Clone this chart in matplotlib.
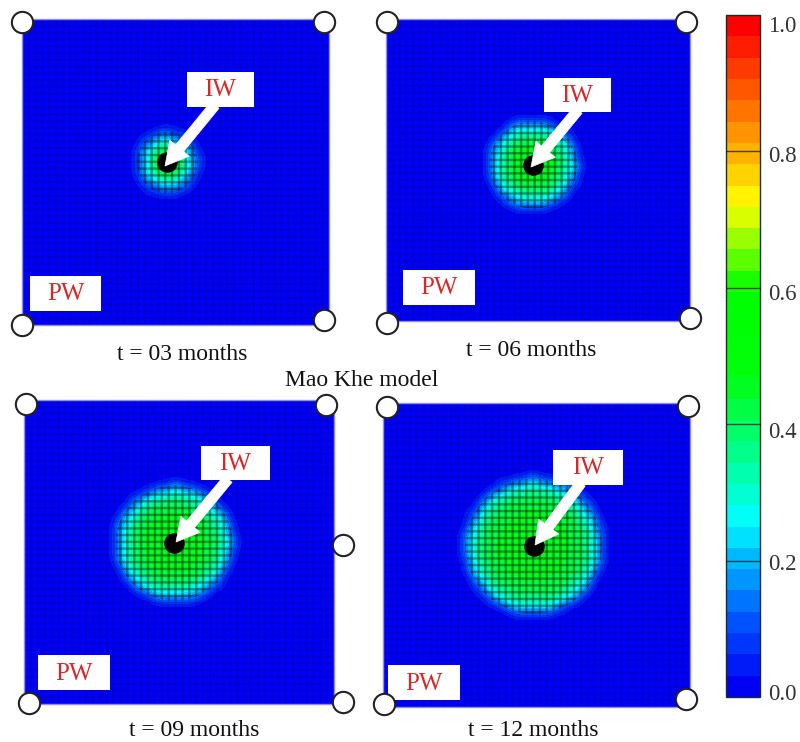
import numpy as np
import matplotlib
matplotlib.use("Agg")
import matplotlib.pyplot as plt
from matplotlib.colors import LinearSegmentedColormap
from matplotlib.patches import Circle

W, H = 800, 742
N_CELLS = 45

panel_titles = ["t = 03 months", "t = 06 months", "t = 09 months", "t = 12 months"]
suptitle = "Mao Khe model"
bar_ticks = [0.0, 0.2, 0.4, 0.6, 0.8, 1.0]

# saturation read per half-cell ring around the injection well
background = 0.012
rings_03 = [0.50, 0.50, 0.48, 0.45, 0.40, 0.34, 0.27, 0.21, 0.15, 0.10, 0.05, 0.02]
rings_06 = [0.46, 0.46, 0.46, 0.46, 0.46, 0.45, 0.44, 0.42, 0.39, 0.35, 0.31, 0.26,
            0.20, 0.13, 0.06, 0.02]
rings_09 = [0.45, 0.45, 0.45, 0.45, 0.45, 0.45, 0.45, 0.45, 0.45, 0.44, 0.43, 0.41,
            0.39, 0.35, 0.31, 0.26, 0.20, 0.13, 0.06, 0.02]
rings_12 = [0.44, 0.44, 0.44, 0.44, 0.44, 0.44, 0.44, 0.44, 0.44, 0.44, 0.44, 0.44,
            0.43, 0.42, 0.41, 0.38, 0.35, 0.31, 0.26, 0.20, 0.13, 0.06, 0.02]
well_col = [21.3, 21.8, 21.8, 22.1]
well_row = [21.1, 21.75, 21.2, 21.2]

# layout, pixels: left, right, top, bottom
boxes = [(22, 329, 19, 325), (386, 690, 19, 321), (24, 334, 400, 704), (383, 690, 403, 707)]
title_xy = [(182, 354), (531, 350), (194, 731), (533, 731)]
iw_boxes = [(187, 254, 72, 107), (544, 611, 78, 112), (201, 270, 446, 480), (553, 623, 450, 485)]
pw_boxes = [(30, 101, 276, 311), (403, 475, 270, 305), (38, 110, 655, 690), (388, 460, 665, 700)]
arrow_from = [(215, 105), (578, 110), (228, 479), (581, 483)]
arrow_to = [(165, 166), (531, 167), (176, 542), (535, 545)]
circles = [(22, 22), (324, 22), (22, 325), (324, 320),
           (387, 22), (686, 22), (387, 323), (690, 318),
           (26, 404), (326, 405), (29, 703), (343, 702), (343, 545),
           (387, 407), (688, 406), (384, 704), (686, 699)]
bar_label_y = [694, 564, 432, 294, 157, 27]

plt.rcParams["font.family"] = ["Liberation Serif", "DejaVu Serif"]

stops = [(0.0, (0, 0, 0.96)), (0.1, (0, 0.33, 1)), (0.2, (0, 0.75, 1)), (0.25, (0, 1, 1)),
         (0.40, (0, 1, 0.35)), (0.47, (0, 1, 0.05)), (0.60, (0, 1, 0)), (0.65, (0.4, 1, 0)),
         (0.73, (1, 1, 0)), (0.80, (1, 0.72, 0)), (0.90, (1, 0.35, 0)), (1.0, (1, 0, 0))]
cmap = LinearSegmentedColormap.from_list("sat", stops).resampled(32)

fig = plt.figure(figsize=(W / 100, H / 100), dpi=100, facecolor="white")


def px_axes(l, r, t, b, **kw):
    return fig.add_axes([l / W, 1 - b / H, (r - l) / W, (b - t) / H], **kw)


cols, rows = np.meshgrid(np.arange(N_CELLS) + 0.5, np.arange(N_CELLS) + 0.5)
image = None
for box, rings, wc, wr in zip(boxes, [rings_03, rings_06, rings_09, rings_12], well_col, well_row):
    ax = px_axes(*box)
    table = np.array(rings + [background] * (3 * N_CELLS))
    ring = np.rint(2 * np.hypot(cols - wc, rows - wr)).astype(int)
    field = table[ring]
    image = ax.imshow(field, cmap=cmap, vmin=0, vmax=1, extent=(0, N_CELLS, N_CELLS, 0),
                      interpolation="bicubic", aspect="auto")
    plume = Circle((wc, wr), len(rings) / 2 - 1.5, transform=ax.transData)
    for k in range(1, N_CELLS):
        ax.axvline(k, color="black", lw=1.2, alpha=0.10, snap=False)
        ax.axhline(k, color="black", lw=1.2, alpha=0.10, snap=False)
        for line in (ax.axvline(k, color="black", lw=1.8, alpha=0.30, snap=False),
                     ax.axhline(k, color="black", lw=1.8, alpha=0.30, snap=False)):
            line.set_clip_path(plume)
    ax.scatter([wc], [wr], s=190, color="black", zorder=4)
    ax.set_xticks([])
    ax.set_yticks([])
    for s in ax.spines.values():
        s.set_color("#8f8fe8")
        s.set_linewidth(1.0)

cax = px_axes(726, 760, 15, 697)
cb = fig.colorbar(image, cax=cax, ticks=bar_ticks)
cb.ax.tick_params(length=0, labelright=False)
for v in bar_ticks[1:-1]:
    cb.ax.axhline(v, color="#222222", lw=1.0, alpha=0.8)
cb.outline.set_edgecolor("#1c2a2a")
cb.outline.set_linewidth(1.0)

over = fig.add_axes([0, 0, 1, 1], facecolor="none")
over.set_xlim(0, W)
over.set_ylim(H, 0)
over.axis("off")

for v, y in zip(bar_ticks, bar_label_y):
    over.text(768, y, f"{v:.1f}", fontsize=16.5, color="#333333", ha="left", va="center")
for (x0, y0), (x1, y1) in zip(arrow_from, arrow_to):
    over.annotate("", xy=(x1, y1), xytext=(x0, y0),
                  arrowprops=dict(arrowstyle="simple,head_length=1.1,head_width=1.2,tail_width=0.5",
                                  color="white", lw=0.5, shrinkA=0, shrinkB=0, mutation_scale=15))
for lab, bxs in (("IW", iw_boxes), ("PW", pw_boxes)):
    for (l, r, t, b) in bxs:
        over.fill([l, r, r, l], [t, t, b, b], color="white", lw=0, zorder=3)
        over.text((l + r) / 2, (t + b) / 2 + 1, lab, color="#d22a2a", fontsize=18,
                  ha="center", va="center", zorder=4)
xs, ys = zip(*circles)
over.scatter(xs, ys, s=235, facecolor="white", edgecolor="#222222", linewidth=1.5, zorder=5, clip_on=False)
for (x, y), t in zip(title_xy, panel_titles):
    over.text(x, y, t, fontsize=17, color="#111111", ha="center", va="center")
over.text(362, 381, suptitle, fontsize=17, color="#111111", ha="center", va="center")

fig.savefig("out.png", dpi=100)
